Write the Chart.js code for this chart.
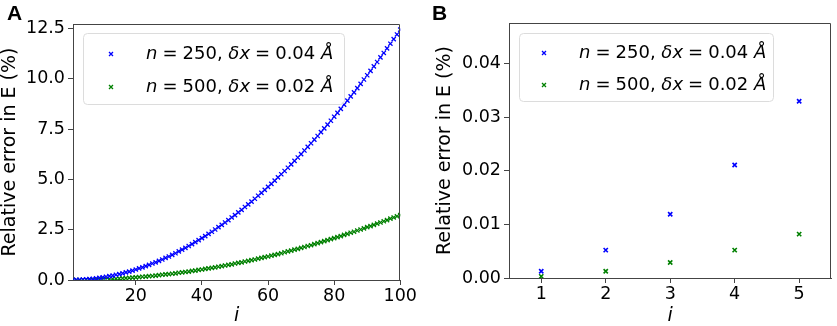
<!DOCTYPE html>
<html>
<head>
<meta charset="utf-8">
<script src="https://cdn.jsdelivr.net/npm/chart.js@4.4.1/dist/chart.umd.min.js"></script>
<style>
  html, body { margin: 0; padding: 0; background: #fff; }
  #wrap { position: relative; width: 837px; height: 326px; overflow: hidden; }
  canvas { position: absolute; top: 0; }
  #cA { left: 0; }
  #cB { left: 418px; }
  .lbl { position: absolute; font: bold 21px "Liberation Sans", Arial, sans-serif; line-height: 21px; color: #000; }
</style>
</head>
<body>
<div id="wrap">
  <canvas id="cA" width="418" height="326"></canvas>
  <canvas id="cB" width="419" height="326"></canvas>
  <div class="lbl" style="left:7px; top:2px;">A</div>
  <div class="lbl" style="left:432px; top:2px;">B</div>
</div>
<script>
// ---------------- data ----------------
const iA = Array.from({length: 100}, (_, k) => k + 1);   // state index i = 1..100
const blueA = [
  0.00, 0.01, 0.01, 0.02, 0.03, 0.05, 0.06, 0.08, 0.11, 0.13,
  0.16, 0.19, 0.22, 0.26, 0.29, 0.33, 0.38, 0.42, 0.47, 0.52,
  0.58, 0.63, 0.69, 0.75, 0.82, 0.88, 0.95, 1.02, 1.10, 1.17,
  1.25, 1.33, 1.42, 1.51, 1.60, 1.69, 1.78, 1.88, 1.98, 2.08,
  2.18, 2.29, 2.40, 2.51, 2.63, 2.74, 2.86, 2.98, 3.11, 3.23,
  3.36, 3.49, 3.63, 3.76, 3.90, 4.04, 4.19, 4.33, 4.48, 4.63,
  4.78, 4.94, 5.10, 5.26, 5.42, 5.58, 5.75, 5.92, 6.09, 6.26,
  6.44, 6.62, 6.80, 6.98, 7.16, 7.35, 7.54, 7.73, 7.92, 8.12,
  8.31, 8.51, 8.72, 8.92, 9.13, 9.33, 9.54, 9.75, 9.97, 10.18,
  10.40, 10.62, 10.84, 11.07, 11.29, 11.52, 11.75, 11.98, 12.21, 12.45
];
const greenA = [
  0.00, 0.00, 0.00, 0.01, 0.01, 0.01, 0.02, 0.02, 0.03, 0.03,
  0.04, 0.05, 0.06, 0.06, 0.07, 0.08, 0.09, 0.11, 0.12, 0.13,
  0.14, 0.16, 0.17, 0.19, 0.20, 0.22, 0.24, 0.26, 0.28, 0.29,
  0.31, 0.33, 0.36, 0.38, 0.40, 0.42, 0.45, 0.47, 0.50, 0.52,
  0.55, 0.58, 0.60, 0.63, 0.66, 0.69, 0.72, 0.75, 0.78, 0.82,
  0.85, 0.88, 0.92, 0.95, 0.99, 1.02, 1.06, 1.10, 1.14, 1.17,
  1.21, 1.25, 1.29, 1.33, 1.38, 1.42, 1.46, 1.51, 1.55, 1.60,
  1.64, 1.69, 1.73, 1.78, 1.83, 1.88, 1.93, 1.98, 2.03, 2.08,
  2.13, 2.18, 2.24, 2.29, 2.35, 2.40, 2.46, 2.51, 2.57, 2.63,
  2.68, 2.74, 2.80, 2.86, 2.92, 2.98, 3.05, 3.11, 3.17, 3.23
];
const iB = [1, 2, 3, 4, 5];
const blueB = [0.00125, 0.0052, 0.0119, 0.0211, 0.0330];
const greenB = [0.0003, 0.00125, 0.0029, 0.0052, 0.0082];

const xTicksA = [20, 40, 60, 80, 100];
const yTicksA = [0, 2.5, 5, 7.5, 10, 12.5];
const xTicksB = [1, 2, 3, 4, 5];
const yTicksB = [0, 0.01, 0.02, 0.03, 0.04];

// legend tokens: [text, italic]
const legendParts = [
  [["n", true], ["=", false], ["250,", false], [" ", false], ["δx", true], ["=", false], ["0.04", false], [" ", false], ["Å", true]],
  [["n", true], ["=", false], ["500,", false], [" ", false], ["δx", true], ["=", false], ["0.02", false], [" ", false], ["Å", true]]
];
const seriesColors = ["#0000ff", "#008000"];
const yTitle = "Relative error in E (%)";
const xTitle = "i";

// ---------------- helpers ----------------
const FONT = '"DejaVu Sans", sans-serif';
const AXIS = '#444444';
const TICK_PX = 17.5, TITLE_PX = 19, LEG_PX = 18;

function pts(xs, ys) { return xs.map((x, k) => ({x: x, y: ys[k]})); }

function drawCross(ctx, x, y, r, color, lw) {
  ctx.save();
  ctx.strokeStyle = color; ctx.lineWidth = lw;
  ctx.beginPath();
  ctx.moveTo(x - r, y - r); ctx.lineTo(x + r, y + r);
  ctx.moveTo(x - r, y + r); ctx.lineTo(x + r, y - r);
  ctx.stroke();
  ctx.restore();
}

function makePlugin(leg) {
  return {
    id: 'frameLegend',
    afterDatasetsDraw(chart) {
      const {ctx, chartArea: a} = chart;
      ctx.save();
      // top & right spines
      ctx.strokeStyle = AXIS; ctx.lineWidth = 1;
      ctx.beginPath();
      ctx.moveTo(Math.round(a.left) + 0.5, Math.round(a.top) + 0.5);
      ctx.lineTo(Math.round(a.right) - 0.5, Math.round(a.top) + 0.5);
      ctx.lineTo(Math.round(a.right) - 0.5, Math.round(a.bottom) + 0.5);
      ctx.stroke();
      // legend box
      ctx.beginPath();
      ctx.roundRect(leg.x + 0.5, leg.y + 0.5, leg.w, leg.h, 4);
      ctx.fillStyle = 'rgba(255,255,255,0.85)';
      ctx.fill();
      ctx.strokeStyle = '#dcdcdc';
      ctx.stroke();
      ctx.textBaseline = 'middle';
      ctx.fillStyle = '#000';
      const thick = 0.28 * LEG_PX;
      legendParts.forEach((parts, k) => {
        const y = leg.rows[k];
        drawCross(ctx, leg.mx, y, 2, seriesColors[k], 1.3);
        let x = leg.tx;
        parts.forEach(([t, it]) => {
          ctx.font = (it ? 'oblique ' : '') + LEG_PX + 'px ' + FONT;
          if (t === '=') x += thick;
          ctx.fillText(t, x, y);
          x += ctx.measureText(t).width;
          if (t === '=') x += thick;
        });
      });
      ctx.restore();
    }
  };
}

function makeChart(id, cfg) {
  return new Chart(document.getElementById(id), {
    type: 'scatter',
    data: {
      datasets: [
        { data: pts(cfg.xs, cfg.blue), borderColor: seriesColors[0], backgroundColor: seriesColors[0],
          pointStyle: 'crossRot', pointRadius: cfg.r, pointBorderWidth: cfg.bw, showLine: false },
        { data: pts(cfg.xs, cfg.green), borderColor: seriesColors[1], backgroundColor: seriesColors[1],
          pointStyle: 'crossRot', pointRadius: cfg.r, pointBorderWidth: cfg.bw, showLine: false }
      ]
    },
    options: {
      responsive: false, animation: false, devicePixelRatio: 1,
      layout: { padding: cfg.pad },
      plugins: { legend: { display: false }, tooltip: { enabled: false } },
      scales: {
        x: {
          type: 'linear', min: cfg.xmin, max: cfg.xmax,
          afterBuildTicks: s => { s.ticks = cfg.xt.map(v => ({value: v})); },
          afterFit: s => { s.height = cfg.xh; },
          ticks: { color: '#000', font: { family: FONT, size: TICK_PX }, padding: 1, maxRotation: 0,
                   callback: v => String(v) },
          grid: { drawOnChartArea: false, drawTicks: true, tickLength: 5, color: AXIS, tickWidth: 1 },
          border: { display: true, color: AXIS, width: 1 },
          title: { display: true, text: xTitle, color: '#000',
                   font: { family: FONT, size: TITLE_PX, style: 'italic' }, padding: { top: 0, bottom: -1 } }
        },
        y: {
          type: 'linear', min: 0, max: cfg.ymax,
          afterBuildTicks: s => { s.ticks = cfg.yt.map(v => ({value: v})); },
          afterFit: s => { s.width = cfg.yw; },
          ticks: { color: '#000', font: { family: FONT, size: TICK_PX }, padding: 3,
                   callback: v => v.toFixed(cfg.yd) },
          grid: { drawOnChartArea: false, drawTicks: true, tickLength: 5, color: AXIS, tickWidth: 1 },
          border: { display: true, color: AXIS, width: 1 },
          title: { display: true, text: yTitle, color: '#000',
                   font: { family: FONT, size: TITLE_PX }, padding: { top: cfg.ytp, bottom: 0 } }
        }
      }
    },
    plugins: [makePlugin(cfg.leg)]
  });
}

makeChart('cA', {
  xs: iA, blue: blueA, green: greenA, r: 3, bw: 1.3,
  xmin: 1, xmax: 100, ymax: 12.73, xt: xTicksA, yt: yTicksA, yd: 1,
  pad: { top: 24, right: 16, left: 0, bottom: 0 }, xh: 46, yw: 73, ytp: -1.5,
  leg: { x: 83, y: 33, w: 261, h: 71, mx: 111, tx: 146, rows: [54, 87] }
});
makeChart('cB', {
  xs: iB, blue: blueB, green: greenB, r: 3, bw: 1.6,
  xmin: 0.5, xmax: 5.5, ymax: 0.0476, xt: xTicksB, yt: yTicksB, yd: 2,
  pad: { top: 23, right: 3, left: 0, bottom: 0 }, xh: 48, yw: 91, ytp: 16,
  leg: { x: 101, y: 33, w: 254, h: 68, mx: 126, tx: 161, rows: [53, 85] }
});
</script>
</body>
</html>
